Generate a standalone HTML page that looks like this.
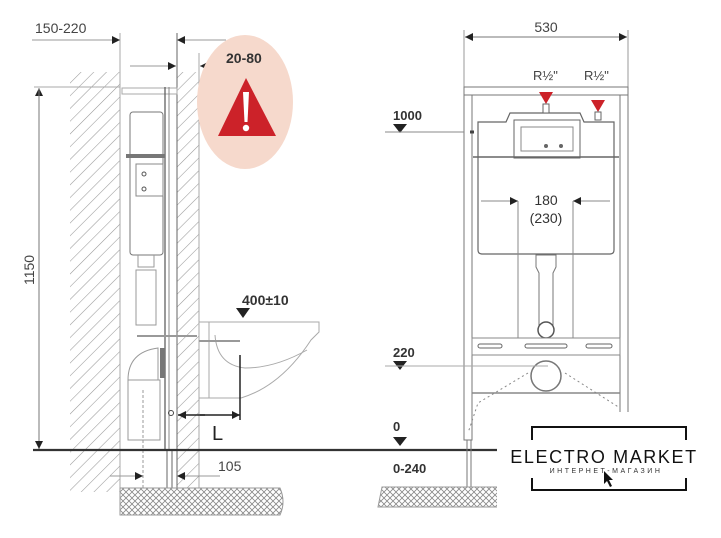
<!DOCTYPE html>
<html><head><meta charset="utf-8"><style>
html,body{margin:0;padding:0;background:#fff;width:721px;height:538px;overflow:hidden}
svg{display:block}
text{font-family:"Liberation Sans",sans-serif}
</style></head><body>
<svg width="721" height="538" viewBox="0 0 721 538" xmlns="http://www.w3.org/2000/svg">
<defs>
<pattern id="h" width="9" height="9" patternUnits="userSpaceOnUse" patternTransform="rotate(45)">
<line x1="0" y1="0" x2="0" y2="9" stroke="#999" stroke-width="1.1"/>
</pattern>
<pattern id="x" width="6" height="6" patternUnits="userSpaceOnUse">
<path d="M0 0L6 6M6 0L0 6" stroke="#888" stroke-width="0.8"/>
</pattern>
<marker id="a" viewBox="0 0 10 10" refX="10" refY="5" markerWidth="14" markerHeight="8" markerUnits="userSpaceOnUse" orient="auto"><path d="M0 0L10 5L0 10z" fill="#222"/></marker>
</defs>

<!-- LEFT VIEW -->
<rect x="70" y="72" width="50" height="420" fill="url(#h)"/>
<rect x="177" y="72" width="22" height="380" fill="url(#h)"/>
<rect x="177" y="452" width="22" height="36" fill="url(#h)"/>
<line x1="120" y1="33" x2="120" y2="492" stroke="#aaa" stroke-width="1"/>
<line x1="177" y1="33" x2="177" y2="488" stroke="#666" stroke-width="1"/>
<line x1="199" y1="53" x2="199" y2="488" stroke="#aaa" stroke-width="1"/>
<text x="35" y="33" font-size="14" fill="#444">150-220</text>
<line x1="32" y1="40" x2="120" y2="40" stroke="#999" marker-end="url(#a)"/>
<line x1="226" y1="40" x2="177" y2="40" stroke="#999" marker-end="url(#a)"/>
<line x1="130" y1="66" x2="176" y2="66" stroke="#999" marker-end="url(#a)"/>
<line x1="282" y1="66" x2="200" y2="66" stroke="#999" marker-end="url(#a)"/>
<ellipse cx="245" cy="102" rx="48" ry="67" fill="#f6d9cc"/>
<text x="226" y="63" font-size="14" font-weight="bold" fill="#333">20-80</text>
<path d="M246 78L276 136L218 136z" fill="#cc2229"/>
<path d="M243 92h6l-1.5 30h-3z" fill="#fff"/>
<circle cx="246" cy="128" r="3.2" fill="#fff"/>
<line x1="34" y1="87" x2="120" y2="87" stroke="#aaa"/>
<line x1="39" y1="450" x2="39" y2="88" stroke="#777" marker-end="url(#a)"/>
<line x1="39" y1="88" x2="39" y2="449" stroke="#777" marker-end="url(#a)"/>
<text transform="translate(34,270) rotate(-90)" font-size="14" fill="#444" text-anchor="middle">1150</text>
<rect x="122" y="88" width="55" height="6" fill="none" stroke="#aaa"/>
<line x1="165" y1="87" x2="165" y2="450" stroke="#555" stroke-width="1.2"/>
<line x1="169" y1="87" x2="169" y2="450" stroke="#888"/>
<rect x="130" y="112" width="33" height="143" rx="3" fill="#fff" stroke="#777"/>
<rect x="126" y="154" width="39" height="4" fill="#777"/>
<rect x="136" y="164" width="27" height="32" fill="none" stroke="#888"/>
<circle cx="144" cy="174" r="2" fill="none" stroke="#555"/><circle cx="144" cy="189" r="2" fill="none" stroke="#555"/>
<path d="M138 255v12h16v-12 M136 270h20v55h-20z" fill="none" stroke="#999"/>
<path d="M137 336h60" stroke="#999" stroke-width="2"/>
<path d="M128 380q0-28 30-32v32z M128 380h32v60h-32z" fill="none" stroke="#999"/>
<line x1="143" y1="390" x2="143" y2="490" stroke="#999" stroke-dasharray="3 2"/>
<rect x="160" y="348" width="5" height="30" fill="#777"/>
<circle cx="171" cy="413" r="2.5" fill="none" stroke="#444"/>
<line x1="167" y1="450" x2="167" y2="488" stroke="#666"/><line x1="172" y1="450" x2="172" y2="488" stroke="#666"/>
<path d="M199 322h120v10l-8 8q-30 46-70 58h-42z" fill="#fff" stroke="#aaa"/>
<line x1="209" y1="322" x2="209" y2="398" stroke="#aaa"/>
<path d="M215 335q2 30 30 33q30 0 62-18" fill="none" stroke="#aaa"/>
<line x1="199" y1="341" x2="240" y2="341" stroke="#999" stroke-width="2"/>
<text x="242" y="305" font-size="14" font-weight="bold" fill="#333">400±10</text>
<path d="M236 308h14l-7 10z" fill="#222"/>
<line x1="240" y1="355" x2="240" y2="420" stroke="#222" stroke-width="1.5"/>
<line x1="205" y1="415" x2="178" y2="415" stroke="#222" stroke-width="1.5" marker-end="url(#a)"/>
<line x1="200" y1="415" x2="240" y2="415" stroke="#222" stroke-width="1.5" marker-end="url(#a)"/>
<text x="212" y="440" font-size="20" fill="#222">L</text>
<line x1="110" y1="476" x2="143" y2="476" stroke="#999" marker-end="url(#a)"/>
<line x1="220" y1="476" x2="177" y2="476" stroke="#999" marker-end="url(#a)"/>
<text x="218" y="471" font-size="14" fill="#444">105</text>
<path d="M120 488h160q6 14 0 27h-160z" fill="url(#x)" stroke="#999"/>
<line x1="33" y1="450" x2="500" y2="450" stroke="#333" stroke-width="2.2"/>

<!-- RIGHT VIEW -->
<line x1="464" y1="30" x2="464" y2="90" stroke="#999"/>
<line x1="628" y1="30" x2="628" y2="90" stroke="#999"/>
<line x1="546" y1="37" x2="465" y2="37" stroke="#777" marker-end="url(#a)"/>
<line x1="546" y1="37" x2="627" y2="37" stroke="#777" marker-end="url(#a)"/>
<text x="546" y="32" font-size="14" fill="#444" text-anchor="middle">530</text>
<text x="533" y="80" font-size="13" fill="#444">R½"</text>
<text x="584" y="80" font-size="13" fill="#444">R½"</text>
<rect x="464" y="87" width="164" height="8" fill="#fff" stroke="#777"/>
<rect x="464" y="95" width="8" height="345" fill="#fff" stroke="#777"/>
<rect x="620" y="95" width="8" height="320" fill="#fff" stroke="#777"/>
<path d="M478 122h28l4-9h70l4 9h30v128q0 4-4 4h-128q-4 0-4-4z" fill="#fff" stroke="#666" stroke-width="1.2"/>
<rect x="514" y="120" width="66" height="38" fill="none" stroke="#666"/>
<rect x="521" y="127" width="52" height="24" fill="none" stroke="#888"/>
<circle cx="546" cy="146" r="2" fill="#666"/><circle cx="561" cy="146" r="2" fill="#666"/>
<line x1="473" y1="157" x2="619" y2="157" stroke="#666" stroke-width="1.5"/>
<line x1="470" y1="132" x2="474" y2="132" stroke="#444" stroke-width="3"/>
<path d="M539 92h14l-7 12z M591 100h14l-7 12z" fill="#cc2229"/>
<rect x="543" y="104" width="6" height="9" fill="#fff" stroke="#666"/>
<rect x="595" y="112" width="6" height="8" fill="#fff" stroke="#666"/>
<text x="546" y="205" font-size="14" fill="#333" text-anchor="middle">180</text>
<text x="546" y="223" font-size="14" fill="#333" text-anchor="middle">(230)</text>
<line x1="481" y1="201" x2="518" y2="201" stroke="#888" marker-end="url(#a)"/>
<line x1="610" y1="201" x2="573" y2="201" stroke="#888" marker-end="url(#a)"/>
<line x1="518" y1="201" x2="518" y2="345" stroke="#888"/>
<line x1="573" y1="201" x2="573" y2="345" stroke="#888"/>
<path d="M536 255h20v12l-3 6v55h-14v-55l-3-6z" fill="#fff" stroke="#777"/>
<circle cx="546" cy="330" r="8" fill="#fff" stroke="#555" stroke-width="1.5"/>
<rect x="472" y="338" width="148" height="17" fill="#fff" stroke="#888"/>
<rect x="478" y="344" width="24" height="4" rx="2" fill="none" stroke="#666"/>
<rect x="525" y="344" width="42" height="4" rx="2" fill="none" stroke="#666"/>
<rect x="586" y="344" width="26" height="4" rx="2" fill="none" stroke="#666"/>
<circle cx="546" cy="376" r="15" fill="#fff" stroke="#777" stroke-width="1.5"/>
<line x1="472" y1="393" x2="620" y2="393" stroke="#888" stroke-width="1.5"/>
<path d="M528 373l-50 30l-10 30 M565 373l55 35" fill="none" stroke="#888" stroke-dasharray="2 3"/>
<text x="393" y="120" font-size="13" font-weight="bold" fill="#333">1000</text>
<path d="M393 124h14l-7 9z" fill="#222"/>
<line x1="385" y1="132" x2="464" y2="132" stroke="#888"/>
<text x="393" y="357" font-size="13" font-weight="bold" fill="#333">220</text>
<path d="M393 361h14l-7 9z" fill="#222"/>
<line x1="385" y1="366" x2="548" y2="366" stroke="#aaa"/>
<text x="393" y="431" font-size="13" font-weight="bold" fill="#333">0</text>
<path d="M393 437h14l-7 9z" fill="#222"/>
<text x="393" y="473" font-size="13" font-weight="bold" fill="#333">0-240</text>
<line x1="467" y1="440" x2="467" y2="487" stroke="#777"/><line x1="471" y1="440" x2="471" y2="487" stroke="#777"/>
<path d="M382 487h118v20h-122z" fill="url(#x)" stroke="#999"/>

<!-- LOGO -->
<rect x="497" y="412" width="224" height="126" fill="#fff"/>
<path d="M532 440v-13h154v13 M532 478v12h154v-12" fill="none" stroke="#111" stroke-width="2"/>
<text x="604" y="463" font-size="18" fill="#111" text-anchor="middle" letter-spacing="1.6">ELECTRO MARKET</text>
<text x="606" y="473" font-size="7" fill="#333" text-anchor="middle" letter-spacing="2.5">ИНТЕРНЕТ-МАГАЗИН</text>
<path d="M604 471v13l3-3l3 6l2-1l-3-6h4z" fill="#111"/>
</svg>
</body></html>
